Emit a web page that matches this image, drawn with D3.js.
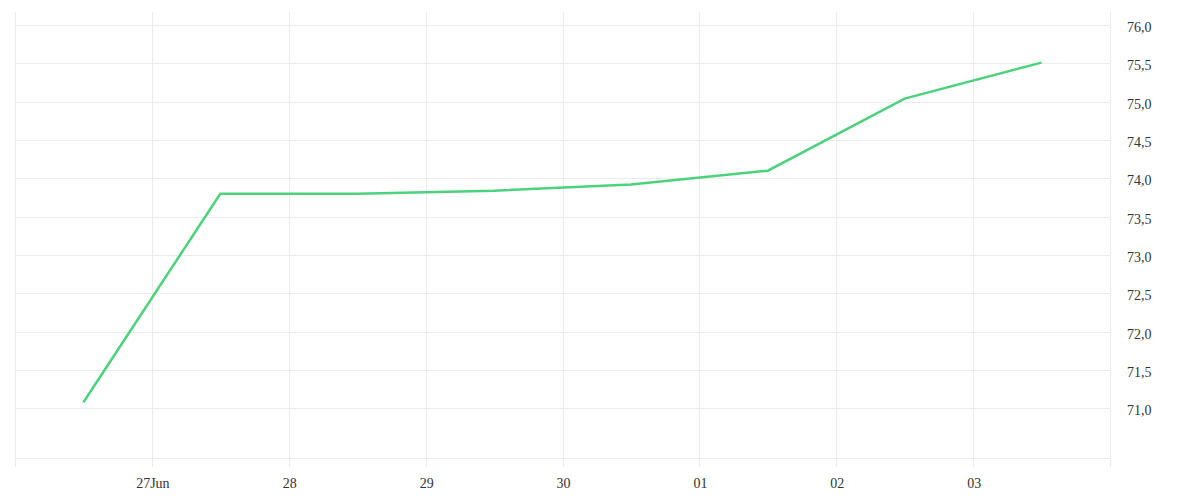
<!DOCTYPE html>
<html><head><meta charset="utf-8">
<script src="https://cdn.jsdelivr.net/npm/d3@7"></script>
<style>
html,body{margin:0;padding:0;background:#fff;}
svg text{font-family:"Liberation Serif",serif;font-size:14px;fill:#333;}
</style></head>
<body><svg id="c" width="1200" height="500"></svg>
<script>
const dates = ["2024-06-26T12:00","2024-06-27T12:00","2024-06-28T12:00","2024-06-29T12:00","2024-06-30T12:00","2024-07-01T12:00","2024-07-02T12:00","2024-07-03T12:00"];
const values = [71.08, 73.80, 73.80, 73.84, 73.92, 74.10, 75.04, 75.51];
const yTicks = [71.0, 71.5, 72.0, 72.5, 73.0, 73.5, 74.0, 74.5, 75.0, 75.5, 76.0];
const gridDays = ["2024-06-26","2024-06-27","2024-06-28","2024-06-29","2024-06-30","2024-07-01","2024-07-02","2024-07-03","2024-07-04"];
const labelDays = ["2024-06-27","2024-06-28","2024-06-29","2024-06-30","2024-07-01","2024-07-02","2024-07-03"];
const xLabels = ["27Jun","28","29","30","01","02","03"];

const parse = d3.isoParse;
const svg = d3.select("#c");
const L = 15, R = 1110, T = 12, B = 458;
const x = d3.scaleTime().domain([new Date(2024,5,26), new Date(2024,6,4)]).range([L, R]);
const y = d3.scaleLinear().domain([70.3534, 76.1697]).range([B, T]);
const p = s => { const [a,b] = s.split("T"); const [Y,M,D] = a.split("-").map(Number); let h=0; if(b){h=+b.split(":")[0];} return new Date(Y,M-1,D,h); };

const grid = svg.append("g").attr("stroke","#ececec").attr("stroke-width",1).attr("shape-rendering","crispEdges");
grid.selectAll("line.h").data(yTicks).join("line")
  .attr("x1",L).attr("x2",R).attr("y1",d=>Math.round(y(d))+0.5).attr("y2",d=>Math.round(y(d))+0.5);
grid.append("line").attr("x1",L).attr("x2",R).attr("y1",B+0.5).attr("y2",B+0.5);
grid.selectAll("line.v").data(gridDays).join("line")
  .attr("x1",d=>Math.round(x(p(d)))+0.5).attr("x2",d=>Math.round(x(p(d)))+0.5)
  .attr("y1",T).attr("y2",467);

// y labels
svg.append("g").selectAll("text").data(yTicks).join("text")
  .attr("x",1127).attr("y",d=>y(d)+7)
  .text(d=>d3.format(".1f")(d).replace(".",","));

// x labels
svg.append("g").selectAll("text").data(labelDays).join("text")
  .attr("x",d=>x(p(d))+1).attr("y",488).attr("text-anchor","middle")
  .text((d,i)=>xLabels[i]);

const data = dates.map((d,i)=>({t:p(d), v:values[i]}));
svg.append("path").datum(data)
  .attr("fill","none").attr("stroke","#4cd27c").attr("stroke-width",2.5)
  .attr("d", d3.line().x(d=>x(d.t)).y(d=>y(d.v)));
</script></body></html>
